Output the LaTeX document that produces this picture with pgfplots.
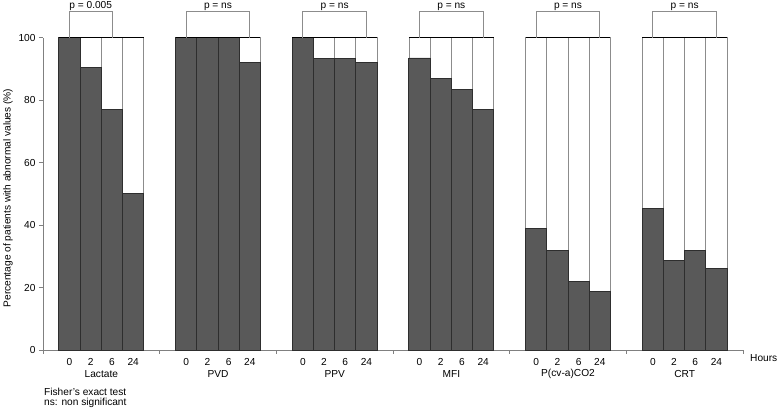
\documentclass[border=0pt]{standalone}
\usepackage{pgfplots}
\pgfplotsset{compat=1.18}
\usepackage{fontspec}
\setmainfont{Liberation Sans}
\definecolor{darkbar}{HTML}{595959}
\definecolor{darkedge}{HTML}{2E2E2E}
\definecolor{lightedge}{HTML}{8C8C8C}
\definecolor{axisgray}{HTML}{808080}
\begin{document}
\begin{tikzpicture}[font=\fontsize{10.2}{12}\selectfont]
\begin{axis}[
  at={(0,0)}, anchor=south west,
  scale only axis, width=700bp, height=312.3bp,
  xmin=0, xmax=33, ymin=0, ymax=100,
  clip=false,
  ybar, bar width=1, bar shift=0pt,
  axis x line=bottom, axis y line=left,
  axis line style={-, draw=axisgray, line width=0.8bp},
  ytick={0,20,40,60,80,100},
  tick align=outside, major tick length=4bp,
  ytick style={draw=axisgray, line width=0.8bp},
  xtick={1.25,2.25,3.25,4.25,6.75,7.75,8.75,9.75,12.25,13.25,14.25,15.25,17.75,18.75,19.75,20.75,23.25,24.25,25.25,26.25,28.75,29.75,30.75,31.75},
  xticklabels={0,2,6,24,0,2,6,24,0,2,6,24,0,2,6,24,0,2,6,24,0,2,6,24},
  xtick style={draw=none},
  xticklabel style={yshift=-0.5bp},
  /pgf/number format/assume math mode=true,
  ylabel={Percentage of patients with abnormal values (\%)},
  ylabel style={at={(axis description cs:-0.05,0.487)}, anchor=center},
]
% total (white part reaches 100%)
\addplot[fill=white, draw=lightedge, line width=0.8bp] coordinates {
 (1.25,100) (2.25,100) (3.25,100) (4.25,100)
 (6.75,100) (7.75,100) (8.75,100) (9.75,100)
 (12.25,100) (13.25,100) (14.25,100) (15.25,100)
 (17.75,100) (18.75,100) (19.75,100) (20.75,100)
 (23.25,100) (24.25,100) (25.25,100) (26.25,100)
 (28.75,100) (29.75,100) (30.75,100) (31.75,100)
};
% abnormal values
\addplot[fill=darkbar, draw=darkedge, line width=0.9bp] coordinates {
 (1.25,100) (2.25,90.5) (3.25,77) (4.25,50)
 (6.75,100) (7.75,100) (8.75,100) (9.75,92)
 (12.25,100) (13.25,93.2) (14.25,93.2) (15.25,92)
 (17.75,93.5) (18.75,87) (19.75,83.5) (20.75,77)
 (23.25,38.8) (24.25,31.8) (25.25,22) (26.25,18.7)
 (28.75,45.2) (29.75,28.6) (30.75,31.8) (31.75,26.1)
};
% top edge of each group
\foreach \g in {0,1,2,3,4,5}{
  \edef\temp{\noexpand\draw[black, line width=1.1bp] (axis cs:{5.5*\g+0.75},100) -- (axis cs:{5.5*\g+4.75},100);}
  \temp
}
% group boundary ticks
\foreach \b in {0,5.5,11,16.5,22,27.5,33}{
  \edef\temp{\noexpand\draw[axisgray, line width=0.8bp] (axis cs:\b,0) -- ++(0,-4bp);}
  \temp
}
% brackets
\tikzset{pnode/.style={midway, anchor=south, inner sep=0.3bp, black}}
\draw[lightedge, line width=0.8bp] (axis cs:1.25,100) -- (axis cs:1.25,108.5) -- (axis cs:3.25,108.5) node[pnode] {p = 0.005} -- (axis cs:3.25,100);
\draw[lightedge, line width=0.8bp] (axis cs:6.75,100) -- (axis cs:6.75,108.5) -- (axis cs:9.75,108.5) node[pnode] {p = ns} -- (axis cs:9.75,100);
\draw[lightedge, line width=0.8bp] (axis cs:12.25,100) -- (axis cs:12.25,108.5) -- (axis cs:15.25,108.5) node[pnode] {p = ns} -- (axis cs:15.25,100);
\draw[lightedge, line width=0.8bp] (axis cs:17.75,100) -- (axis cs:17.75,108.5) -- (axis cs:20.75,108.5) node[pnode] {p = ns} -- (axis cs:20.75,100);
\draw[lightedge, line width=0.8bp] (axis cs:23.25,100) -- (axis cs:23.25,108.5) -- (axis cs:26.25,108.5) node[pnode] {p = ns} -- (axis cs:26.25,100);
\draw[lightedge, line width=0.8bp] (axis cs:28.75,100) -- (axis cs:28.75,108.5) -- (axis cs:31.75,108.5) node[pnode] {p = ns} -- (axis cs:31.75,100);
% group names
\node at ([yshift=-24bp]axis cs:2.75,0) {Lactate};
\node at ([yshift=-24bp]axis cs:8.25,0) {PVD};
\node at ([yshift=-24bp]axis cs:13.75,0) {PPV};
\node at ([yshift=-24bp]axis cs:19.25,0) {MFI};
\node at ([yshift=-24bp]axis cs:24.75,0) {P(cv-a)CO2};
\node at ([yshift=-24bp]axis cs:30.25,0) {CRT};
\node[anchor=west, inner sep=0pt] at ([xshift=7bp, yshift=-8bp]axis cs:33,0) {Hours};
\node[anchor=west, inner sep=0pt] at ([xshift=1bp, yshift=-42bp]axis cs:0,0) {Fisher's exact test};
\node[anchor=west, inner sep=0pt] at ([xshift=1bp, yshift=-53bp]axis cs:0,0) {ns: non significant};
\end{axis}
\pgfresetboundingbox
\path[use as bounding box] (-43bp,-60bp) rectangle (735bp,350bp);
\end{tikzpicture}
\end{document}
